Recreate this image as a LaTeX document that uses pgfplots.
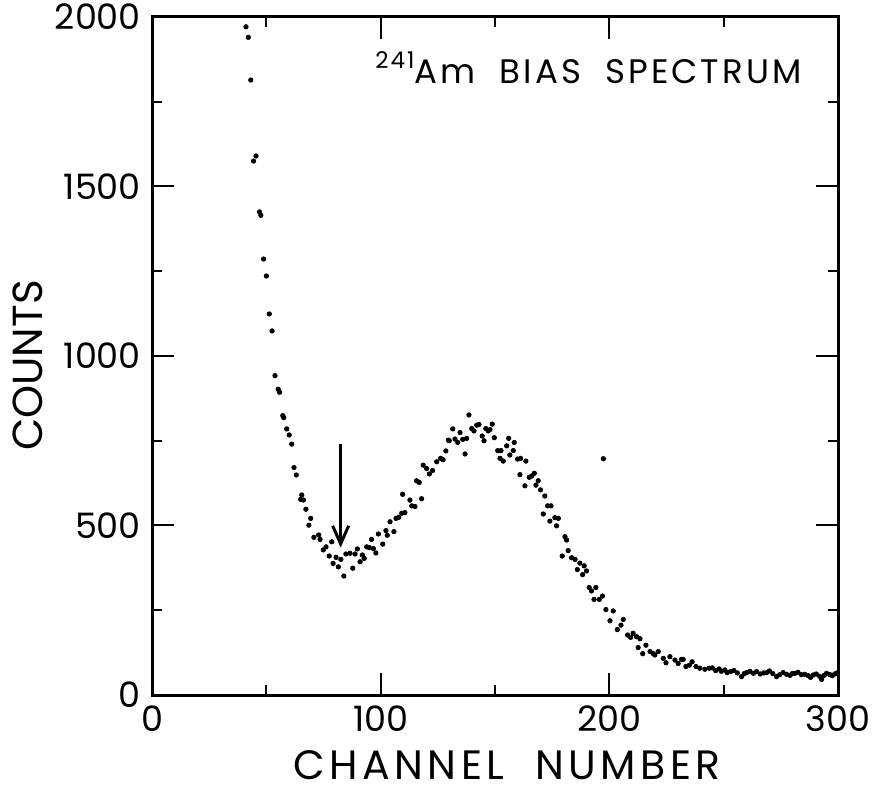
\documentclass[border=0pt]{standalone}
\usepackage{pgfplots}
\pgfplotsset{compat=1.18}
\usepackage{fontspec}
\setmainfont{Poppins}
\usetikzlibrary{arrows.meta}
\begin{document}
\begin{tikzpicture}
\path[use as bounding box] (-76bp,-48bp) rectangle (362bp,347.5bp);
\begin{axis}[
  at={(0,0)}, anchor=south west,
  scale only axis, width=343bp, height=339bp,
  xmin=0, xmax=300, ymin=0, ymax=2000,
  xtick={0,100,200,300}, minor xtick={50,150,250},
  ytick={0,500,1000,1500,2000}, minor ytick={250,750,1250,1750},
  tick align=inside,
  major tick length=11bp, minor tick length=5bp,
  axis line style={line width=1.5bp},
  every tick/.style={line width=1bp, black},
  /pgf/number format/assume math mode=true,
  /pgf/number format/1000 sep={},
  ticklabel style={font=\fontsize{17.5bp}{20bp}\selectfont},
  xticklabel style={yshift=-2bp},
  yticklabel style={xshift=-2bp},
  xlabel={CHANNEL\ \ NUMBER},
  ylabel={COUNTS},
  xlabel style={font=\fontsize{20.5bp}{22bp}\selectfont\addfontfeatures{LetterSpace=11},
    at={(axis description cs:0.5175,-0.124)}, anchor=base, inner sep=0pt},
  ylabel style={font=\fontsize{21bp}{24bp}\selectfont,
    at={(axis description cs:-0.181,0.486)}, anchor=center},
]
\addplot[only marks, mark=*, mark size=1.1bp, black] coordinates {
(41.1,1971) (42.1,1940) (43.2,1814) (44.4,1575) (45.5,1590) (47.0,1425) (47.6,1415)
(48.8,1286) (50.0,1236) (51.3,1124) (52.5,1074) (53.8,942) (55.2,902) (55.8,893)
(57.2,824) (57.6,818) (58.9,785) (60.0,767) (61.1,740) (62.1,671) (63.1,649)
(65.0,577) (65.5,590) (66.2,575) (67.3,548) (68.6,501) (69.4,521) (70.8,465)
(72.9,472) (73.5,459) (74.9,428) (76.1,437) (77.5,410) (78.6,452) (79.2,388)
(80.5,406) (81.5,378) (82.6,400) (83.9,351) (84.8,416) (86.6,418) (87.8,374)
(88.8,416) (89.8,431) (91.0,393) (92.0,413) (92.8,403) (93.9,437) (95.0,435)
(96.0,459) (96.8,432) (97.9,419) (99.0,475) (100.9,445) (102.3,485) (102.9,471)
(104.1,511) (105.8,482) (106.7,521) (107.9,524) (109.2,536) (109.6,592) (110.6,538)
(112.8,575) (113.6,558) (115.0,556) (115.7,632) (116.9,627) (117.9,579) (118.6,678)
(120.1,668) (121.3,652) (122.7,662) (124.5,688) (126.2,698) (127.3,694) (128.5,720)
(129.6,752) (130.0,750) (131.5,785) (132.5,755) (133.7,745) (134.7,774) (135.9,754)
(136.9,711) (137.6,757) (138.6,826) (139.8,786) (140.8,779) (142.0,796) (143.0,798)
(144.4,764) (145.2,750) (146.0,786) (147.0,779) (147.8,783) (148.8,799) (149.7,759)
(151.2,721) (152.2,698) (152.6,721) (153.6,690) (155.1,735) (156.0,757) (156.5,708)
(158.0,721) (158.4,745) (159.9,696) (160.9,650) (161.2,698) (163.1,617) (163.5,690)
(165.0,642) (166.0,646) (167.2,654) (167.9,619) (168.9,632) (169.9,605) (171.1,534)
(171.8,587) (173.0,558) (174.0,513) (174.5,558) (176.2,523) (176.9,499) (177.7,521)
(179.4,410) (180.6,467) (181.3,457) (182.0,426) (183.5,405) (185.0,400) (186.0,370)
(187.1,389) (188.3,355) (189.0,381) (190.0,366) (191.2,317) (192.2,307) (193.3,282)
(194.1,317) (195.6,282) (197.0,292) (197.4,697) (198.5,252) (200.3,219) (201.7,248)
(203.5,193) (205.1,206) (206.1,223) (208.0,177) (209.3,170) (210.4,182) (211.9,172)
(212.6,140) (213.4,166) (214.6,122) (216.0,147) (217.8,128) (219.2,122) (219.9,118)
(221.4,128) (223.6,108) (224.8,95) (226.5,113) (228.7,103) (230.1,93) (231.6,105)
(232.3,105) (233.5,84) (235.0,88) (236.2,98) (237.9,84) (239.6,79) (241.8,76)
(243.7,79) (245,80) (246.5,72) (248,77) (249,70) (250.5,74) (251.5,66) (253,69)
(254.5,72) (256,65) (257.8,54) (259,63) (260,66) (261.5,70) (263,64) (264.4,69)
(266,62) (267.5,65) (268.8,66) (270,71) (271.5,63) (273.1,54) (274.5,60) (276,66)
(277.5,61) (279,58) (280,63) (281.2,64) (282.5,67) (284,60) (285.5,61) (287,57)
(288,52) (289.2,59) (290.5,62) (292,55) (292.8,46) (294,58) (295,64) (296.5,60)
(297.5,57) (298.6,62) (299.5,65)
};
\draw[line width=1.5bp, -{Straight Barb[length=9bp,width=8bp]}] (axis cs:82.5,740) -- (axis cs:82.5,435);
\node[anchor=base west, inner sep=0pt, font=\fontsize{17bp}{20bp}\selectfont\addfontfeatures{LetterSpace=9}] at (axis cs:97.5,1804) {\raisebox{0.45em}{\fontsize{11.5bp}{13bp}\selectfont 241}Am\ \ BIAS\ \ SPECTRUM};
\end{axis}
\end{tikzpicture}
\end{document}
